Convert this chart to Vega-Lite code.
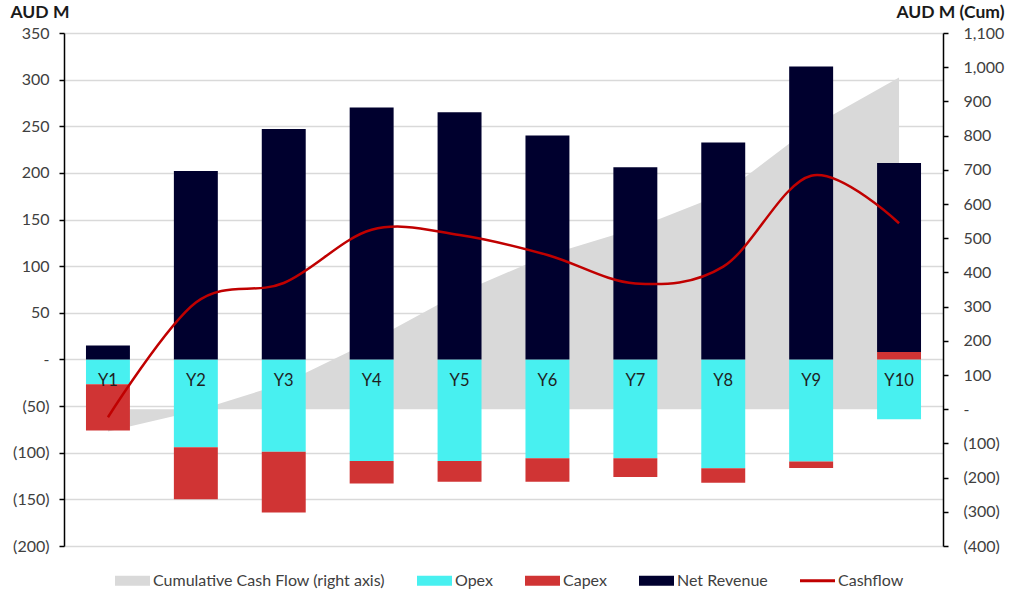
{
  "$schema": "https://vega.github.io/schema/vega-lite/v6.json",
  "autosize": {"type": "none"},
  "width": 879,
  "height": 513,
  "padding": {"left": 64, "top": 33, "right": 81, "bottom": 69},
  "background": "#ffffff",
  "config": {
    "font": "Lato",
    "view": {"stroke": null},
    "axis": {"labelFont": "Lato", "titleFont": "Lato"}
  },
  "data": {
    "values": [
      {"year": "Y1", "Net Revenue": 15, "Opex": -26.6, "Capex": -49.7, "cashflow": -62, "cumulative": -65},
      {"year": "Y2", "Net Revenue": 202, "Opex": -94, "Capex": -56, "cashflow": 61, "cumulative": -5},
      {"year": "Y3", "Net Revenue": 247, "Opex": -99, "Capex": -65, "cashflow": 82, "cumulative": 75},
      {"year": "Y4", "Net Revenue": 270, "Opex": -109, "Capex": -24, "cashflow": 139, "cumulative": 200},
      {"year": "Y5", "Net Revenue": 265, "Opex": -109, "Capex": -22, "cashflow": 133.5, "cumulative": 340},
      {"year": "Y6", "Net Revenue": 240, "Opex": -106, "Capex": -25, "cashflow": 112, "cumulative": 450},
      {"year": "Y7", "Net Revenue": 206, "Opex": -106, "Capex": -20, "cashflow": 81.5, "cumulative": 528},
      {"year": "Y8", "Net Revenue": 232.5, "Opex": -116.7, "Capex": -15.5, "cashflow": 99.5, "cumulative": 630},
      {"year": "Y9", "Net Revenue": 314, "Opex": -109.5, "Capex": -7, "cashflow": 197, "cumulative": 825},
      {"year": "Y10", "Net Revenue": 202.5, "Opex": -64, "Capex": 8, "cashflow": 146, "cumulative": 970}
    ]
  },
  "encoding": {
    "x": {
      "field": "year",
      "type": "nominal",
      "sort": ["Y1","Y2","Y3","Y4","Y5","Y6","Y7","Y8","Y9","Y10"],
      "scale": {"paddingInner": 0.5, "paddingOuter": 0.25},
      "axis": null
    }
  },
  "layer": [
    {
      "mark": {"type": "area", "color": "#d9d9d9"},
      "encoding": {
        "y": {
          "field": "cumulative",
          "type": "quantitative",
          "scale": {"domain": [-400, 1100], "nice": false},
          "axis": {
            "orient": "right",
            "values": [-400,-300,-200,-100,0,100,200,300,400,500,600,700,800,900,1000,1100],
            "labelExpr": "datum.value == 0 ? '-' : datum.value < 0 ? '(' + format(-datum.value, ',') + ')' : format(datum.value, ',')",
            "grid": false,
            "domainColor": "#000000",
            "domainWidth": 1.5,
            "tickColor": "#000000",
            "tickSize": 5,
            "tickWidth": 1.5,
            "labelPadding": 15,
            "labelFontSize": 16,
            "labelColor": "#404040",
            "title": "AUD M (Cum)",
            "titleAngle": 0,
            "titleAlign": "right",
            "titleBaseline": "middle",
            "titleX": 61,
            "titleY": -21,
            "titleFontSize": 17.5,
            "titleFontWeight": "bold",
            "titleColor": "#1a1a1a"
          }
        }
      }
    },
    {
      "layer": [
        {
          "transform": [
            {"fold": ["Opex", "Capex", "Net Revenue"], "as": ["series", "value"]},
            {"calculate": "indexof(['Opex','Capex','Net Revenue'], datum.series)", "as": "stackOrder"}
          ],
          "mark": {"type": "bar"},
          "encoding": {
            "y": {
              "field": "value",
              "type": "quantitative",
              "stack": "zero",
              "scale": {"domain": [-200, 350], "nice": false},
              "axis": {
                "orient": "left",
                "values": [-200,-150,-100,-50,0,50,100,150,200,250,300,350],
                "labelExpr": "datum.value == 0 ? '-' : datum.value < 0 ? '(' + format(-datum.value, ',') + ')' : format(datum.value, ',')",
                "grid": true,
                "gridColor": "#d9d9d9",
                "gridWidth": 1.5,
                "domainColor": "#000000",
                "domainWidth": 1.5,
                "tickColor": "#000000",
                "tickSize": 5,
                "tickWidth": 1.5,
                "labelPadding": 10,
                "labelFontSize": 16,
                "labelColor": "#404040",
                "title": "AUD M",
                "titleAngle": 0,
                "titleAlign": "left",
                "titleBaseline": "middle",
                "titleX": -54,
                "titleY": -21,
                "titleFontSize": 17.5,
                "titleFontWeight": "bold",
                "titleColor": "#1a1a1a"
              }
            },
            "color": {
              "field": "series",
              "type": "nominal",
              "scale": {
                "domain": ["Cumulative Cash Flow (right axis)", "Opex", "Capex", "Net Revenue", "Cashflow"],
                "range": ["#d9d9d9", "#48f0f0", "#d03434", "#00002e", "#c00000"]
              },
              "legend": {
                "orient": "none",
                "legendX": 51,
                "legendY": 530,
                "direction": "horizontal",
                "title": null,
                "symbolSize": 1225,
                "symbolType": "M-1,-0.29H1V0.29H-1Z",
                "symbolStrokeWidth": 0,
                "labelFontSize": 16,
                "labelLimit": 0,
                "labelColor": "#404040",
                "labelOffset": 3,
                "columnPadding": 32,
                "encode": {
                  "symbols": {
                    "update": {
                      "shape": {"signal": "datum.value === 'Cashflow' ? 'M-1,-0.08H1V0.08H-1Z' : 'M-1,-0.29H1V0.29H-1Z'"},
                      "fill": {"scale": "color", "field": "value"},
                      "strokeWidth": {"value": 0},
                      "opacity": {"value": 1}
                    }
                  }
                }
              }
            },
            "order": {"field": "stackOrder", "type": "quantitative"}
          }
        },
        {
          "mark": {"type": "text", "fontSize": 16.5, "color": "#1f1f1f", "baseline": "middle", "align": "center"},
          "encoding": {
            "y": {"datum": -23, "type": "quantitative"},
            "text": {"field": "year"}
          }
        },
        {
          "mark": {"type": "line", "color": "#c00000", "strokeWidth": 2.5, "interpolate": "cardinal"},
          "encoding": {
            "y": {"field": "cashflow", "type": "quantitative"}
          }
        }
      ]
    }
  ],
  "resolve": {"scale": {"y": "independent"}}
}
